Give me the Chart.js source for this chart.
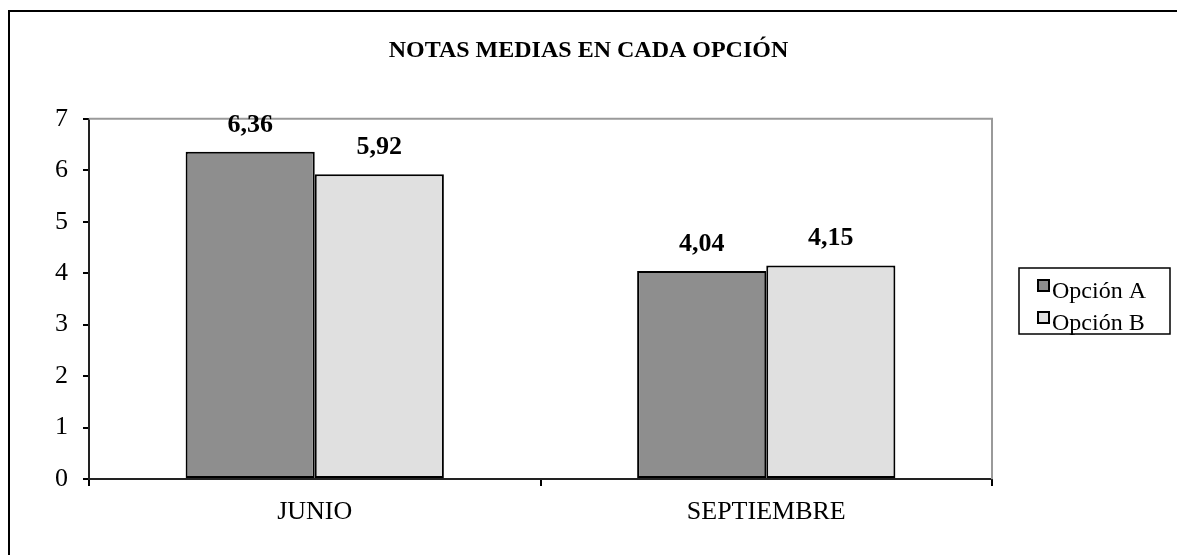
<!DOCTYPE html>
<html>
<head>
<meta charset="utf-8">
<script src="https://cdn.jsdelivr.net/npm/chart.js@4/dist/chart.umd.min.js"></script>
<style>
  html, body { margin: 0; padding: 0; background: #fff; overflow: hidden; }
  #wrap { position: relative; width: 1177px; height: 555px; }
  #frame { position: absolute; left: 8px; top: 10px; width: 1300px; height: 700px; border: 2px solid #000; box-sizing: border-box; pointer-events: none; }
</style>
</head>
<body>
<div id="wrap">
  <canvas id="notasChart" width="1177" height="555"></canvas>
  <div id="frame"></div>
</div>
<script>
// Datos
const categories = ['JUNIO', 'SEPTIEMBRE'];
const seriesNames = ['Opción A', 'Opción B'];
const opcionA = [6.36, 4.04];
const opcionB = [5.92, 4.15];
const yMin = 0;
const yMax = 7;
const yStep = 1;

const serif = '"Liberation Serif", "Times New Roman", serif';

// Borde gris arriba y a la derecha del área de trazado
const plotFrame = {
    id: 'plotFrame',
    beforeDatasetsDraw(chart) {
        const { ctx, chartArea: a } = chart;
        ctx.save();
        ctx.strokeStyle = '#9a9a9a';
        ctx.lineWidth = 2;
        ctx.beginPath();
        ctx.moveTo(a.left, a.top);
        ctx.lineTo(a.right, a.top);
        ctx.lineTo(a.right, a.bottom);
        ctx.stroke();
        ctx.restore();
    }
};

// Etiquetas de valor sobre las barras
const valueLabels = {
    id: 'valueLabels',
    afterDatasetsDraw(chart) {
        const { ctx } = chart;
        ctx.save();
        ctx.font = 'bold 26px ' + serif;
        ctx.fillStyle = '#000';
        ctx.textAlign = 'center';
        ctx.textBaseline = 'alphabetic';
        chart.data.datasets.forEach((ds, i) => {
            chart.getDatasetMeta(i).data.forEach((bar, j) => {
                const txt = ds.data[j].toFixed(2).replace('.', ',');
                ctx.fillText(txt, bar.x, bar.y - 20);
            });
        });
        ctx.restore();
    }
};

// Leyenda con recuadro
const boxLegend = {
    id: 'boxLegend',
    afterDraw(chart) {
        const { ctx } = chart;
        const x = 1019, y = 268, w = 151, h = 66;
        ctx.save();
        ctx.strokeStyle = '#000';
        ctx.lineWidth = 1.5;
        ctx.strokeRect(x, y, w, h);
        ctx.font = '24px ' + serif;
        ctx.textBaseline = 'alphabetic';
        chart.data.datasets.forEach((ds, i) => {
            const rowY = y + 12 + i * 32;
            ctx.fillStyle = ds.backgroundColor;
            ctx.fillRect(1038, rowY, 11, 11);
            ctx.lineWidth = 2;
            ctx.strokeRect(1038, rowY, 11, 11);
            ctx.fillStyle = '#000';
            ctx.fillText(ds.label, 1052, rowY + 18);
        });
        ctx.restore();
    }
};

const ctx = document.getElementById('notasChart').getContext('2d');
new Chart(ctx, {
    type: 'bar',
    data: {
        labels: categories,
        datasets: [{
            label: seriesNames[0],
            data: opcionA,
            backgroundColor: '#8e8e8e',
            borderColor: '#000',
            borderWidth: 2,
            borderSkipped: false
        }, {
            label: seriesNames[1],
            data: opcionB,
            backgroundColor: '#e0e0e0',
            borderColor: '#000',
            borderWidth: 2,
            borderSkipped: false
        }]
    },
    options: {
        responsive: false,
        animation: false,
        devicePixelRatio: 1,
        layout: { padding: 0 },
        categoryPercentage: 0.572,
        barPercentage: 1,
        plugins: {
            legend: { display: false },
            tooltip: { enabled: false },
            title: {
                display: true,
                text: 'NOTAS MEDIAS EN CADA OPCIÓN',
                color: '#000',
                font: { family: serif, size: 24, weight: 'bold', lineHeight: 1.2 },
                padding: { top: 36, bottom: 54 }
            }
        },
        scales: {
            x: {
                grid: { offset: true, drawOnChartArea: false, drawTicks: true, tickLength: 7, color: '#000', lineWidth: 2 },
                border: { display: true, color: '#222', width: 2 },
                ticks: { color: '#000', font: { family: serif, size: 26 }, padding: 11 },
                afterFit(scale) { scale.height = 76; }
            },
            y: {
                min: yMin,
                max: yMax,
                ticks: { stepSize: yStep, color: '#000', font: { family: serif, size: 26 }, padding: 15 },
                grid: { drawOnChartArea: false, drawTicks: true, tickLength: 6, color: '#000', lineWidth: 2 },
                border: { display: true, color: '#222', width: 2 },
                afterFit(scale) { scale.width = 89; }
            },
            pad: {
                position: 'right',
                grid: { display: false },
                border: { display: false },
                ticks: { display: false },
                afterFit(scale) { scale.width = 185; }
            }
        }
    },
    plugins: [plotFrame, valueLabels, boxLegend]
});
</script>
</body>
</html>
